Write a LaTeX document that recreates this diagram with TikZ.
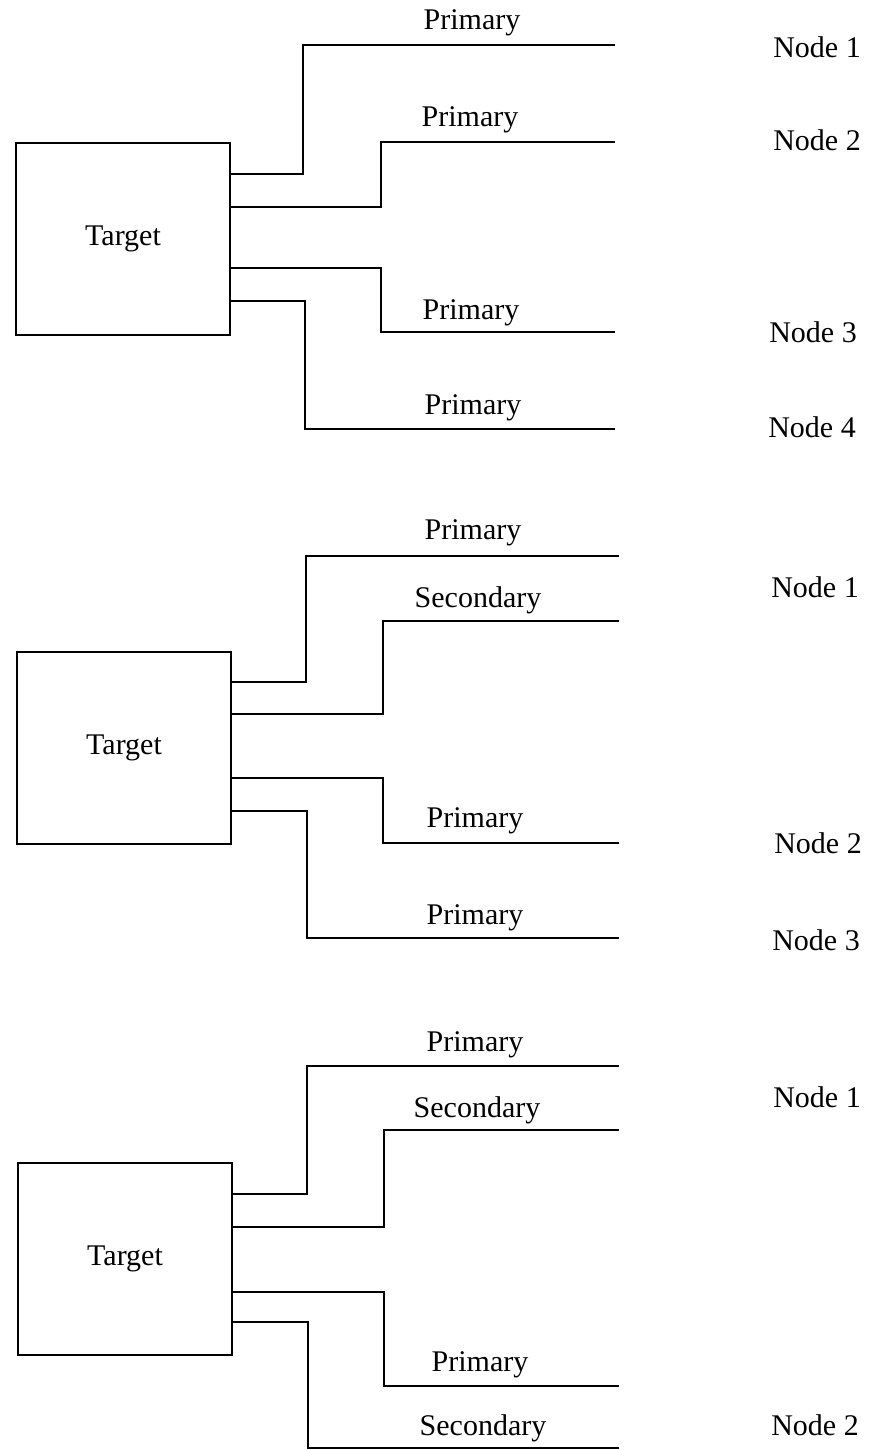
\documentclass[tikz,border=0pt]{standalone}
\usepackage{fontspec}
\setmainfont{Liberation Serif}
\begin{document}
\begin{tikzpicture}[x=1pt,y=-1pt,
  wire/.style={line width=2pt,line join=miter},
  targetbox/.style={draw,line width=2pt,minimum width=214pt,minimum height=192pt,inner sep=0pt,anchor=north west},
  lbl/.style={inner sep=0pt,font=\fontsize{30}{36}\selectfont},
  linklbl/.style={lbl,yshift=-3pt}]
\useasboundingbox (0,0) rectangle (871,1450);

% ---------- first panel: four primary links ----------
\node[targetbox] (T1) at (15,142) {};
\node[lbl] at (T1.center) {Target};
\coordinate (a1) at (615,45);
\coordinate (a2) at (615,142);
\coordinate (a3) at (615,332);
\coordinate (a4) at (615,429);
\draw[wire] ([yshift=-32]T1.north east) -| (303,45) -- (a1);
\draw[wire] ([yshift=-65]T1.north east) -| (381,142) -- (a2);
\draw[wire] ([yshift=-126]T1.north east) -| (381,332) -- (a3);
\draw[wire] ([yshift=-159]T1.north east) -| (305,429) -- (a4);
\node[linklbl] (p11) at (472,20) {Primary};
\node[linklbl] (p12) at (470,117) {Primary};
\node[linklbl] (p13) at (471,310) {Primary};
\node[linklbl] (p14) at (473,405) {Primary};
\node[lbl] (n11) at (817,47) {Node 1};
\node[lbl] (n12) at (817,140) {Node 2};
\node[lbl] (n13) at (813,332) {Node 3};
\node[lbl] (n14) at (812,427) {Node 4};

% ---------- second panel: one secondary link ----------
\node[targetbox] (T2) at (16,651) {};
\node[lbl] at (T2.center) {Target};
\coordinate (b1) at (619,556);
\coordinate (b2) at (619,621);
\coordinate (b3) at (619,843);
\coordinate (b4) at (619,938);
\draw[wire] ([yshift=-31]T2.north east) -| (306,556) -- (b1);
\draw[wire] ([yshift=-63]T2.north east) -| (383,621) -- (b2);
\draw[wire] ([yshift=-127]T2.north east) -| (383,843) -- (b3);
\draw[wire] ([yshift=-160]T2.north east) -| (307,938) -- (b4);
\node[linklbl] (p21) at (473,530) {Primary};
\node[linklbl] (p22) at (478,597) {Secondary};
\node[linklbl] (p23) at (475,818) {Primary};
\node[linklbl] (p24) at (475,915) {Primary};
\node[lbl] (n21) at (815,587) {Node 1};
\node[lbl] (n22) at (818,843) {Node 2};
\node[lbl] (n23) at (816,940) {Node 3};

% ---------- third panel: two secondary links ----------
\node[targetbox] (T3) at (17,1162) {};
\node[lbl] at (T3.center) {Target};
\coordinate (c1) at (619,1066);
\coordinate (c2) at (619,1130);
\coordinate (c3) at (619,1386);
\coordinate (c4) at (619,1448);
\draw[wire] ([yshift=-32]T3.north east) -| (307,1066) -- (c1);
\draw[wire] ([yshift=-65]T3.north east) -| (384,1130) -- (c2);
\draw[wire] ([yshift=-130]T3.north east) -| (384,1386) -- (c3);
\draw[wire] ([yshift=-160]T3.north east) -| (308,1448) -- (c4);
\node[linklbl] (p31) at (475,1042) {Primary};
\node[linklbl] (p32) at (477,1107) {Secondary};
\node[linklbl] (p33) at (480,1362) {Primary};
\node[linklbl] (p34) at (483,1425) {Secondary};
\node[lbl] (n31) at (817,1097) {Node 1};
\node[lbl] (n32) at (815,1425) {Node 2};
\end{tikzpicture}
\end{document}
